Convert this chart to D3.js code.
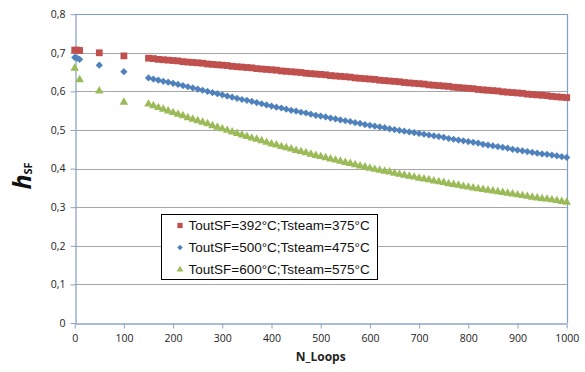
<!DOCTYPE html>
<html>
<head>
<meta charset="utf-8">
<script src="https://cdn.jsdelivr.net/npm/d3@7"></script>
<style>
  body { margin: 0; background: #fff; }
  svg { display: block; font-family: "Open Sans", "Liberation Sans", sans-serif; }
</style>
</head>
<body>
<svg id="chart" width="585" height="372"></svg>
<script>
// first points (sparse part of the run)
var redLoopsStart = [0, 5, 10, 50, 100],
    redStart = [0.707, 0.707, 0.706, 0.700, 0.692];
var blueLoopsStart = [0, 5, 10, 50, 100],
    blueStart = [0.688, 0.686, 0.683, 0.668, 0.651];
var greenLoopsStart = [0, 10, 50, 100],
    greenStart = [0.660, 0.630, 0.601, 0.572];

// dense part: N_Loops 150, 160, ... 1000
var loopsDense = [150, 160, 170, 180, 190, 200, 210, 220, 230, 240, 250, 260, 270, 280, 290,
  300, 310, 320, 330, 340, 350, 360, 370, 380, 390, 400, 410, 420, 430, 440, 450, 460, 470, 480, 490,
  500, 510, 520, 530, 540, 550, 560, 570, 580, 590, 600, 610, 620, 630, 640, 650, 660, 670, 680, 690,
  700, 710, 720, 730, 740, 750, 760, 770, 780, 790, 800, 810, 820, 830, 840, 850, 860, 870, 880, 890,
  900, 910, 920, 930, 940, 950, 960, 970, 980, 990, 1000];

var redDense = [0.686, 0.685, 0.683, 0.682, 0.681, 0.680, 0.679, 0.677, 0.676, 0.675, 0.674, 0.673, 0.671, 0.670, 0.669,
  0.668, 0.667, 0.665, 0.664, 0.663, 0.662, 0.661, 0.659, 0.658, 0.657, 0.656, 0.655, 0.653, 0.652, 0.651,
  0.650, 0.649, 0.647, 0.646, 0.645, 0.644, 0.643, 0.641, 0.640, 0.639, 0.638, 0.637, 0.635, 0.634, 0.633,
  0.632, 0.631, 0.629, 0.628, 0.627, 0.626, 0.625, 0.623, 0.622, 0.621, 0.620, 0.619, 0.617, 0.616, 0.615,
  0.614, 0.613, 0.611, 0.610, 0.609, 0.608, 0.607, 0.605, 0.604, 0.603, 0.602, 0.601, 0.599, 0.598, 0.597,
  0.596, 0.595, 0.593, 0.592, 0.591, 0.590, 0.589, 0.587, 0.586, 0.585, 0.584];

var blueDense = [0.635, 0.632, 0.629, 0.626, 0.624, 0.621, 0.618, 0.615, 0.612, 0.609, 0.606, 0.603, 0.600, 0.597, 0.594,
  0.591, 0.588, 0.585, 0.582, 0.579, 0.577, 0.574, 0.571, 0.568, 0.565, 0.562, 0.559, 0.557, 0.554, 0.551,
  0.549, 0.546, 0.544, 0.541, 0.538, 0.536, 0.534, 0.531, 0.529, 0.526, 0.524, 0.522, 0.519, 0.517, 0.514,
  0.512, 0.510, 0.508, 0.506, 0.503, 0.501, 0.499, 0.497, 0.495, 0.493, 0.491, 0.489, 0.487, 0.485, 0.483,
  0.481, 0.478, 0.476, 0.474, 0.472, 0.470, 0.468, 0.466, 0.463, 0.461, 0.459, 0.457, 0.455, 0.453, 0.450,
  0.448, 0.446, 0.444, 0.442, 0.440, 0.438, 0.437, 0.435, 0.433, 0.431, 0.429];

var greenDense = [0.567, 0.563, 0.558, 0.554, 0.549, 0.545, 0.541, 0.537, 0.532, 0.528, 0.524, 0.520, 0.516, 0.511, 0.507,
  0.503, 0.499, 0.495, 0.491, 0.487, 0.483, 0.479, 0.476, 0.472, 0.468, 0.464, 0.461, 0.457, 0.454, 0.451,
  0.447, 0.444, 0.441, 0.437, 0.434, 0.431, 0.428, 0.425, 0.422, 0.419, 0.416, 0.413, 0.410, 0.407, 0.404,
  0.401, 0.398, 0.396, 0.393, 0.391, 0.388, 0.385, 0.383, 0.380, 0.378, 0.375, 0.373, 0.371, 0.368, 0.366,
  0.364, 0.361, 0.359, 0.357, 0.354, 0.352, 0.350, 0.348, 0.346, 0.344, 0.342, 0.340, 0.338, 0.336, 0.334,
  0.332, 0.330, 0.328, 0.326, 0.324, 0.322, 0.321, 0.319, 0.317, 0.315, 0.313];

var seriesNames = ["ToutSF=392°C;Tsteam=375°C", "ToutSF=500°C;Tsteam=475°C", "ToutSF=600°C;Tsteam=575°C"];
var xTicks = [0, 100, 200, 300, 400, 500, 600, 700, 800, 900, 1000];
var yTicks = [0, 0.1, 0.2, 0.3, 0.4, 0.5, 0.6, 0.7, 0.8];

function pts(xs, ys) { return xs.map(function(x, i) { return {x: x, y: ys[i]}; }); }

var series = [
  {name: seriesNames[0], color: "#C0504D", symbol: d3.symbolSquare, size: 46, rot: 0, points: pts(redLoopsStart, redStart).concat(pts(loopsDense, redDense))},
  {name: seriesNames[1], color: "#4F81BD", symbol: d3.symbolSquare, size: 26, rot: 45, points: pts(blueLoopsStart, blueStart).concat(pts(loopsDense, blueDense))},
  {name: seriesNames[2], color: "#9BBB59", symbol: d3.symbolTriangle, size: 32, rot: 0, points: pts(greenLoopsStart, greenStart).concat(pts(loopsDense, greenDense))}
];

var svg = d3.select("svg#chart");
var margin = {left: 74.7, right: 18.3, top: 14.2, bottom: 49};
var width = +svg.attr("width"), height = +svg.attr("height");

var x = d3.scaleLinear().domain([0, 1000]).range([margin.left, width - margin.right]);
var y = d3.scaleLinear().domain([0, 0.8]).range([height - margin.bottom, margin.top]);

var fmt = function(d) { return d === 0 ? "0" : d3.format(".1f")(d).replace(".", ","); };

// gridlines
svg.append("g")
  .selectAll("line")
  .data(yTicks.filter(function(d) { return d > 0 && d < 0.8; }))
  .enter().append("line")
    .attr("x1", x(0)).attr("x2", x(1000))
    .attr("y1", function(d) { return Math.round(y(d)) + 0.5; })
    .attr("y2", function(d) { return Math.round(y(d)) + 0.5; })
    .attr("stroke", "#A6A6A6").attr("stroke-width", 1.2);

// plot area border (top / right)
svg.append("path")
  .attr("d", "M" + x(0) + "," + (Math.round(y(0.8)) + 0.5) + "H" + (Math.round(x(1000)) + 0.5) + "V" + y(0))
  .attr("fill", "none").attr("stroke", "#7C9DCF").attr("stroke-width", 1.2);

// axes
var xAxis = svg.append("g")
  .attr("transform", "translate(0," + (Math.round(y(0)) + 0.5) + ")")
  .call(d3.axisBottom(x).tickValues(xTicks).tickFormat(d3.format("d")).tickSize(5).tickSizeOuter(0).tickPadding(6));
var yAxis = svg.append("g")
  .attr("transform", "translate(" + (Math.round(x(0)) + 0.5) + ",0)")
  .call(d3.axisLeft(y).tickValues(yTicks).tickFormat(fmt).tickSize(5).tickSizeOuter(0).tickPadding(5));

[xAxis, yAxis].forEach(function(a) {
  a.select(".domain").attr("stroke", "#8EA4C8").attr("stroke-width", 1.3);
  a.selectAll(".tick line").attr("stroke", "#8EA4C8");
  a.selectAll(".tick text").attr("fill", "#222").style("font-size", "10.5px")
    .style("font-family", "'Open Sans', sans-serif");
});

// markers
series.forEach(function(s) {
  svg.append("g")
    .selectAll("path")
    .data(s.points)
    .enter().append("path")
      .attr("d", d3.symbol().type(s.symbol).size(s.size))
      .attr("transform", function(d) {
        return "translate(" + x(d.x) + "," + y(d.y) + ") rotate(" + s.rot + ")";
      })
      .attr("fill", s.color);
});

// legend
var legend = svg.append("g").attr("transform", "translate(161.5,214.5)");
legend.append("rect")
  .attr("width", 216).attr("height", 65)
  .attr("fill", "#fff").attr("stroke", "#000").attr("stroke-width", 1);
series.forEach(function(s, i) {
  var row = legend.append("g").attr("transform", "translate(0," + (11 + i * 22) + ")");
  row.append("path")
    .attr("d", d3.symbol().type(s.symbol).size(s.size * 0.6))
    .attr("transform", "translate(18.5,0) rotate(" + s.rot + ")")
    .attr("fill", s.color);
  row.append("text")
    .attr("x", 27).attr("dy", "0.35em")
    .style("font-size", "13.5px")
    .style("font-family", "'Liberation Sans', Arial, sans-serif")
    .attr("fill", "#111")
    .text(s.name);
});

// axis titles
svg.append("text")
  .attr("x", x(500)).attr("y", 361)
  .attr("text-anchor", "middle")
  .style("font-size", "12px").style("font-weight", "bold")
  .attr("fill", "#222")
  .text("N_Loops");

var yt = svg.append("text")
  .attr("transform", "translate(31,176) rotate(-90)")
  .attr("text-anchor", "middle")
  .attr("fill", "#111");
yt.append("tspan").style("font-size", "25px").style("font-weight", "bold").style("font-style", "italic").text("h");
yt.append("tspan").attr("dy", 1).style("font-size", "11px").style("font-weight", "bold").text("SF");
</script>
</body>
</html>
